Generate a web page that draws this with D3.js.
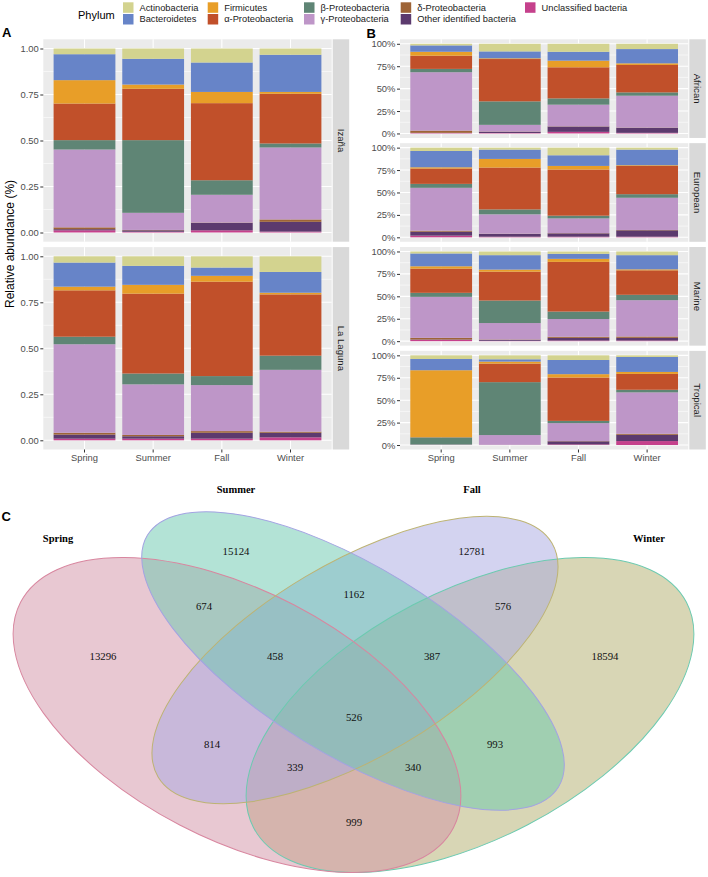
<!DOCTYPE html>
<html><head><meta charset="utf-8">
<script src="https://cdn.jsdelivr.net/npm/d3@7"></script>
<style>body{margin:0;background:#fff}svg{display:block}</style>
</head><body>
<svg id="c" width="708" height="877"></svg>
<script>
// ---------- data ----------
const seasons = ["Spring", "Summer", "Fall", "Winter"];
const phyla = ["Actinobacteria", "Bacteroidetes", "Firmicutes", "α-Proteobacteria", "β-Proteobacteria",
  "γ-Proteobacteria", "δ-Proteobacteria", "Other identified bacteria", "Unclassified bacteria"];
const phylumColors = ["#d3d38f", "#6784c8", "#e89e28", "#c1502a", "#5f8575", "#be96c8", "#9e6437", "#5c3a6e", "#c5418c"];

// rows follow `phyla`, columns follow `seasons`
const izana = [
  [.031, .056, .076, .034], [.141, .14, .16, .202], [.127, .023, .061, .01], [.199, .279, .419, .27],
  [.051, .395, .079, .022], [.423, .093, .151, .391], [.01, .002, .002, .013], [.006, .008, .04, .053],
  [.012, .004, .012, .005]];
const laLaguna = [
  [.034, .052, .061, .085], [.131, .103, .045, .113], [.02, .048, .032, .009], [.252, .434, .513, .333],
  [.041, .059, .049, .077], [.481, .275, .25, .336], [.01, .007, .009, .006], [.022, .013, .032, .025],
  [.009, .009, .009, .016]];
const african = [
  [.018, .085, .089, .059], [.071, .077, .099, .159], [.044, .008, .074, .018], [.147, .472, .347, .306],
  [.037, .262, .07, .037], [.651, .074, .241, .355], [.025, .003, .003, .003], [.002, .014, .059, .056],
  [.005, .005, .018, .007]];
const european = [
  [.037, .022, .085, .022], [.182, .104, .119, .174], [.014, .096, .04, .008], [.171, .467, .515, .315],
  [.044, .055, .03, .04], [.478, .216, .164, .359], [.011, .003, .003, .004], [.044, .03, .037, .071],
  [.019, .007, .007, .007]];
const marine = [
  [.022, .041, .026, .041], [.143, .161, .056, .158], [.026, .023, .034, .011], [.27, .322, .554, .273],
  [.045, .251, .083, .06], [.457, .183, .198, .405], [.018, .004, .012, .015], [.004, .011, .03, .03],
  [.015, .004, .007, .007]];
const tropical = [
  [.041, .044, .052, .018], [.125, .026, .158, .167], [.747, .022, .037, .022], [.002, .207, .484, .177],
  [.08, .59, .025, .029], [.003, .107, .2, .462], [0, 0, .003, .011], [0, .002, .034, .07],
  [.002, .002, .007, .044]];

const sitesA = ["Izaña", "La Laguna"];
const sitesB = ["African", "European", "Marine", "Tropical"];
const yTicks = [0, 0.25, 0.5, 0.75, 1];

const vennSets = ["Spring", "Summer", "Fall", "Winter"];
const vennRegions = ["Spring", "Summer", "Fall", "Winter", "Spring∩Summer", "Summer∩Fall", "Fall∩Winter",
  "Spring∩Fall", "Summer∩Winter", "Spring∩Winter", "Spring∩Summer∩Fall", "Summer∩Fall∩Winter",
  "Spring∩Fall∩Winter", "Spring∩Summer∩Winter", "All"];
const vennCounts = [13296, 15124, 12781, 18594, 674, 1162, 576, 814, 993, 999, 458, 387, 339, 340, 526];

// ---------- layout / style ----------
const SANS = "'Liberation Sans', Arial, Helvetica, sans-serif";
const SERIF = "'Liberation Serif', 'Times New Roman', serif";
const svg = d3.select("#c");
const colorOf = d3.scaleOrdinal().domain(phyla).range(phylumColors);

function facetColumn(opts) {
  const {L, R, top, bottom, gap, sites, tables, fmt} = opts;
  const n = sites.length;
  const h = (bottom - top - gap * (n - 1)) / n;
  const x = d3.scaleBand().domain(seasons).range([L, R]).paddingInner(0.1).paddingOuter(0.15);
  sites.forEach((site, i) => {
    const pt = top + i * (h + gap), pb = pt + h;
    const y = d3.scaleLinear().domain([-0.05, 1.05]).range([pb, pt]);
    const g = svg.append("g");
    g.append("rect").attr("x", L).attr("y", pt).attr("width", R - L).attr("height", h).attr("fill", "#EBEBEB");
    const minors = yTicks.slice(0, -1).map((v, k) => (v + yTicks[k + 1]) / 2);
    g.selectAll(".mn").data(minors).join("line").attr("x1", L).attr("x2", R)
      .attr("y1", d => y(d)).attr("y2", d => y(d)).attr("stroke", "#fff").attr("stroke-width", 0.55);
    g.selectAll(".mj").data(yTicks).join("line").attr("x1", L).attr("x2", R)
      .attr("y1", d => y(d)).attr("y2", d => y(d)).attr("stroke", "#fff").attr("stroke-width", 1.1);
    g.selectAll(".vx").data(seasons).join("line").attr("y1", pt).attr("y2", pb)
      .attr("x1", d => x(d) + x.bandwidth() / 2).attr("x2", d => x(d) + x.bandwidth() / 2)
      .attr("stroke", "#fff").attr("stroke-width", 1.1);
    const tbl = tables[i];
    const rows = seasons.map((s, j) => {
      const o = {season: s};
      phyla.forEach((p, k) => o[p] = tbl[k][j]);
      return o;
    });
    const stacked = d3.stack().keys(phyla.slice().reverse()).offset(d3.stackOffsetExpand)(rows);
    g.selectAll(".ser").data(stacked).join("g").attr("fill", s => colorOf(s.key))
      .selectAll("rect").data(s => s).join("rect")
      .attr("x", d => x(d.data.season)).attr("width", x.bandwidth())
      .attr("y", d => y(d[1])).attr("height", d => Math.max(0, y(d[0]) - y(d[1])));
    const ay = g.append("g").attr("transform", `translate(${L},0)`)
      .call(d3.axisLeft(y).tickValues(yTicks).tickFormat(fmt).tickSize(3).tickPadding(1.6));
    ay.select(".domain").remove();
    ay.selectAll("line").attr("stroke", "#333").attr("stroke-width", 1);
    ay.selectAll("text").attr("fill", "#4d4d4d").style("font-family", SANS).style("font-size", "9.4px");
    g.append("rect").attr("x", R + 1).attr("y", pt).attr("width", 16.5).attr("height", h).attr("fill", "#D9D9D9");
    g.append("text").attr("transform", `translate(${R + 9.5},${pt + h / 2}) rotate(90)`)
      .attr("text-anchor", "middle").attr("dominant-baseline", "central")
      .style("font-family", SANS).style("font-size", "9.6px").attr("fill", "#1a1a1a").text(site);
    if (i === n - 1) {
      const ax = g.append("g").attr("transform", `translate(0,${pb})`)
        .call(d3.axisBottom(x).tickSize(3).tickPadding(2.2));
      ax.select(".domain").remove();
      ax.selectAll("line").attr("stroke", "#333");
      ax.selectAll("text").attr("fill", "#4d4d4d").style("font-family", SANS).style("font-size", "9.4px");
    }
  });
}

facetColumn({L: 43.3, R: 331.7, top: 39.3, bottom: 449.5, gap: 5.4, sites: sitesA,
  tables: [izana, laLaguna], fmt: d3.format(".2f")});
facetColumn({L: 400, R: 688.3, top: 39.3, bottom: 449.5, gap: 5.2, sites: sitesB,
  tables: [african, european, marine, tropical], fmt: d3.format(".0%")});

svg.append("text").attr("transform", "translate(10,244) rotate(-90)").attr("text-anchor", "middle")
  .attr("dominant-baseline", "central").style("font-family", SANS).style("font-size", "12px")
  .attr("fill", "#000").text("Relative abundance (%)");

[["A", 2, 37], ["B", 366.5, 37.5], ["C", 1.5, 520.5]].forEach(([t, xx, yy]) =>
  svg.append("text").attr("x", xx).attr("y", yy).style("font-family", SANS).style("font-size", "13px")
    .style("font-weight", "bold").text(t));

// legend
svg.append("text").attr("x", 78).attr("y", 15).attr("dominant-baseline", "central")
  .style("font-family", SANS).style("font-size", "11px").text("Phylum");
const legCols = [123, 207.7, 304, 400.7, 525];
const legRows = [2.3, 14.0];
const leg = svg.append("g").selectAll("g").data(phyla).join("g")
  .attr("transform", (d, i) => `translate(${legCols[Math.floor(i / 2)]},${legRows[i % 2]})`);
leg.append("rect").attr("width", 10.5).attr("height", 10.5).attr("fill", d => colorOf(d));
leg.append("text").attr("x", 16.5).attr("y", 5.3).attr("dominant-baseline", "central")
  .style("font-family", SANS).style("font-size", "9.3px").attr("fill", "#1a1a1a").text(d => d);

// ---------- Venn ----------
const vennFill = ["#d191a5", "#67c7ad", "#a7a7e1", "#b1ad6b"];
const vennStroke = ["#d8869f", "#a3a3e2", "#bdb373", "#6ccab0"];
const vennShape = [
  {cx: 237, cy: 715, rx: 244, ry: 124, rot: 27.5},
  {cx: 353, cy: 661, rx: 241, ry: 94, rot: 31.5},
  {cx: 355, cy: 660, rx: 229, ry: 97, rot: -30.7},
  {cx: 470, cy: 715, rx: 244, ry: 124, rot: -27.5}];
const drawOrder = [3, 0, 2, 1];
const vg = svg.append("g");
vg.selectAll(".vf").data(drawOrder).join("ellipse")
  .attr("transform", i => `translate(${vennShape[i].cx},${vennShape[i].cy}) rotate(${vennShape[i].rot})`)
  .attr("rx", i => vennShape[i].rx).attr("ry", i => vennShape[i].ry)
  .attr("fill", i => vennFill[i]).attr("fill-opacity", 0.5);
vg.selectAll(".vs").data(drawOrder).join("ellipse")
  .attr("transform", i => `translate(${vennShape[i].cx},${vennShape[i].cy}) rotate(${vennShape[i].rot})`)
  .attr("rx", i => vennShape[i].rx).attr("ry", i => vennShape[i].ry)
  .attr("fill", "none").attr("stroke", i => vennStroke[i]).attr("stroke-width", 1);

const setLabelPos = [[58, 538], [236, 489], [472, 489], [649, 538]];
vg.selectAll(".sl").data(vennSets).join("text")
  .attr("x", (d, i) => setLabelPos[i][0]).attr("y", (d, i) => setLabelPos[i][1])
  .attr("text-anchor", "middle").attr("dominant-baseline", "central")
  .style("font-family", SERIF).style("font-weight", "bold").style("font-size", "10.5px").text(d => d);

const regionPos = [[103, 656], [236, 551], [472, 551], [605, 656], [204, 606], [354, 594], [503, 606],
  [212, 744], [495, 744], [354, 822], [275, 656], [432, 656], [295, 767], [413, 767], [354, 717]];
vg.selectAll(".rl").data(vennCounts).join("text")
  .attr("x", (d, i) => regionPos[i][0]).attr("y", (d, i) => regionPos[i][1])
  .attr("text-anchor", "middle").attr("dominant-baseline", "central")
  .style("font-family", SERIF).style("font-size", "10.8px").attr("fill", "#111").text(d => d);
</script>
</body></html>
